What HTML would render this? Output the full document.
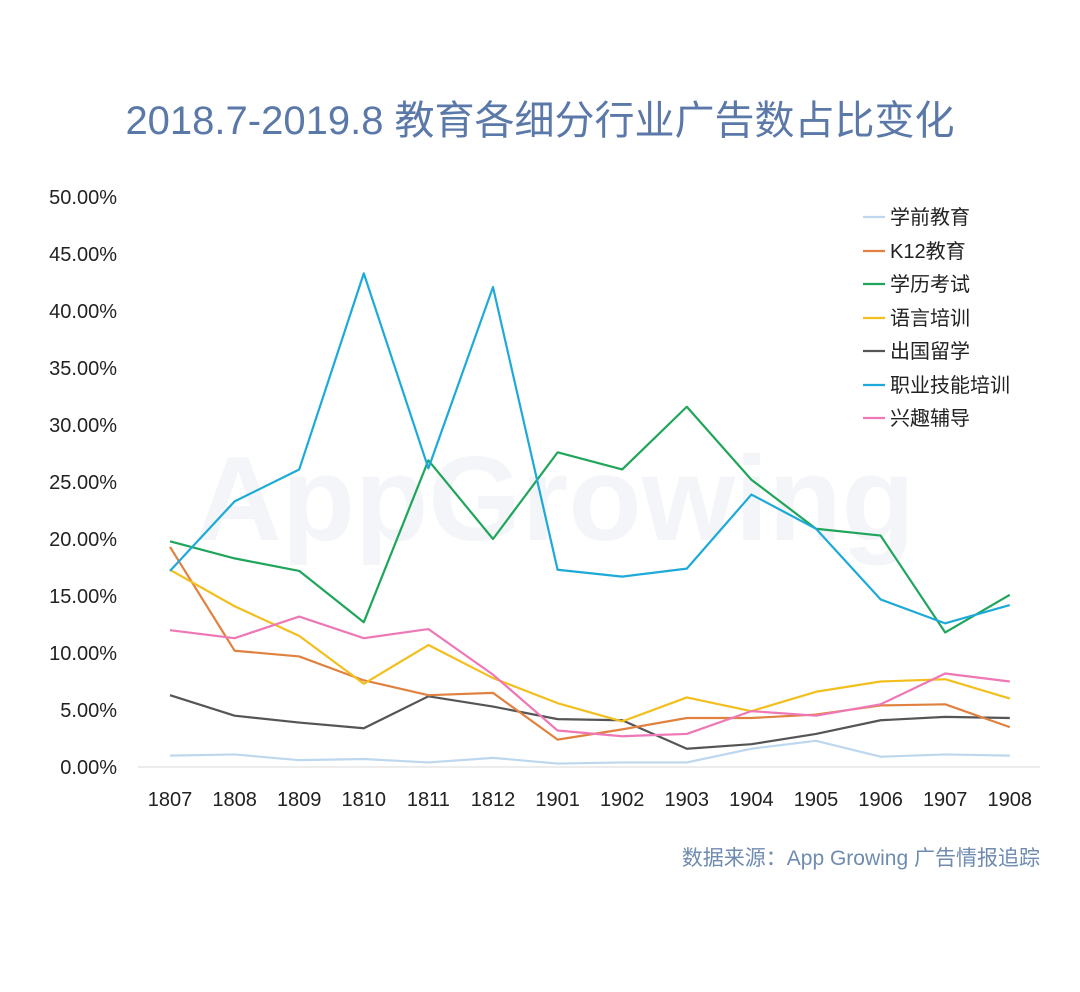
<!DOCTYPE html>
<html><head><meta charset="utf-8"><style>
body{margin:0;background:#fff;}
svg text{font-family:"Liberation Sans","Noto Sans CJK SC",sans-serif;}
</style></head><body>
<svg width="1080" height="987" viewBox="0 0 1080 987" xmlns="http://www.w3.org/2000/svg">
<rect width="1080" height="987" fill="#fff"/>
<text x="540" y="134" text-anchor="middle" font-size="40" fill="#5b79a8">2018.7-2019.8 教育各细分行业广告数占比变化</text>
<text x="555" y="540" text-anchor="middle" font-size="120" font-weight="bold" fill="#f3f5f8">AppGrowing</text>
<line x1="138" y1="767" x2="1040" y2="767" stroke="#d9d9d9" stroke-width="1"/>
<g font-size="20" fill="#222" text-anchor="end">
<text x="117" y="774">0.00%</text><text x="117" y="717">5.00%</text><text x="117" y="660">10.00%</text>
<text x="117" y="603">15.00%</text><text x="117" y="546">20.00%</text><text x="117" y="489">25.00%</text>
<text x="117" y="432">30.00%</text><text x="117" y="375">35.00%</text><text x="117" y="318">40.00%</text>
<text x="117" y="261">45.00%</text><text x="117" y="204">50.00%</text>
</g>
<g font-size="20" fill="#222" text-anchor="middle" id="xl"></g>
<g id="lines" fill="none" stroke-width="2.2" stroke-linejoin="round"></g>
<g font-size="20" fill="#222">
<line x1="863" y1="217" x2="885" y2="217" stroke="#bdd7ee" stroke-width="2.2"/><text x="890" y="224">学前教育</text>
<line x1="863" y1="251" x2="885" y2="251" stroke="#e0813f" stroke-width="2.2"/><text x="890" y="258">K12教育</text>
<line x1="863" y1="284" x2="885" y2="284" stroke="#1fa65a" stroke-width="2.2"/><text x="890" y="291">学历考试</text>
<line x1="863" y1="318" x2="885" y2="318" stroke="#f2bf1e" stroke-width="2.2"/><text x="890" y="325">语言培训</text>
<line x1="863" y1="351" x2="885" y2="351" stroke="#555" stroke-width="2.2"/><text x="890" y="358">出国留学</text>
<line x1="863" y1="385" x2="885" y2="385" stroke="#1eaad8" stroke-width="2.2"/><text x="890" y="392">职业技能培训</text>
<line x1="863" y1="418" x2="885" y2="418" stroke="#ee77b6" stroke-width="2.2"/><text x="890" y="425">兴趣辅导</text>
</g>
<text x="1040" y="865" text-anchor="end" font-size="21" fill="#6f8bb0">数据来源：App Growing 广告情报追踪</text>
<script>
var labels=["1807","1808","1809","1810","1811","1812","1901","1902","1903","1904","1905","1906","1907","1908"];
var ns="http://www.w3.org/2000/svg";
function X(i){return 170+i*64.6;}
function Y(v){return 767-v*11.4;}
var xl=document.getElementById("xl");
labels.forEach(function(l,i){var t=document.createElementNS(ns,"text");t.setAttribute("x",X(i));t.setAttribute("y",806);t.textContent=l;xl.appendChild(t);});
var S=[
["#bdd7ee",[1.0,1.1,0.6,0.7,0.4,0.8,0.3,0.4,0.4,1.6,2.3,0.9,1.1,1.0]],
["#555",[6.3,4.5,3.9,3.4,6.2,5.3,4.2,4.1,1.6,2.0,2.9,4.1,4.4,4.3]],
["#e0813f",[19.3,10.2,9.7,7.6,6.3,6.5,2.4,3.3,4.3,4.3,4.6,5.4,5.5,3.5]],
["#f2bf1e",[17.3,14.1,11.5,7.3,10.7,7.8,5.6,4.0,6.1,4.9,6.6,7.5,7.7,6.0]],
["#ee77b6",[12.0,11.3,13.2,11.3,12.1,8.1,3.2,2.7,2.9,4.9,4.5,5.5,8.2,7.5]],
["#1fa65a",[19.8,18.3,17.2,12.7,26.9,20.0,27.6,26.1,31.6,25.2,20.9,20.3,11.8,15.1]],
["#1eaad8",[17.2,23.3,26.1,43.3,26.2,42.1,17.3,16.7,17.4,23.9,20.9,14.7,12.6,14.2]]];
var g=document.getElementById("lines");
S.forEach(function(s){var p=document.createElementNS(ns,"polyline");p.setAttribute("stroke",s[0]);p.setAttribute("points",s[1].map(function(v,i){return X(i)+","+Y(v);}).join(" "));g.appendChild(p);});
</script>
</svg>
</body></html>
